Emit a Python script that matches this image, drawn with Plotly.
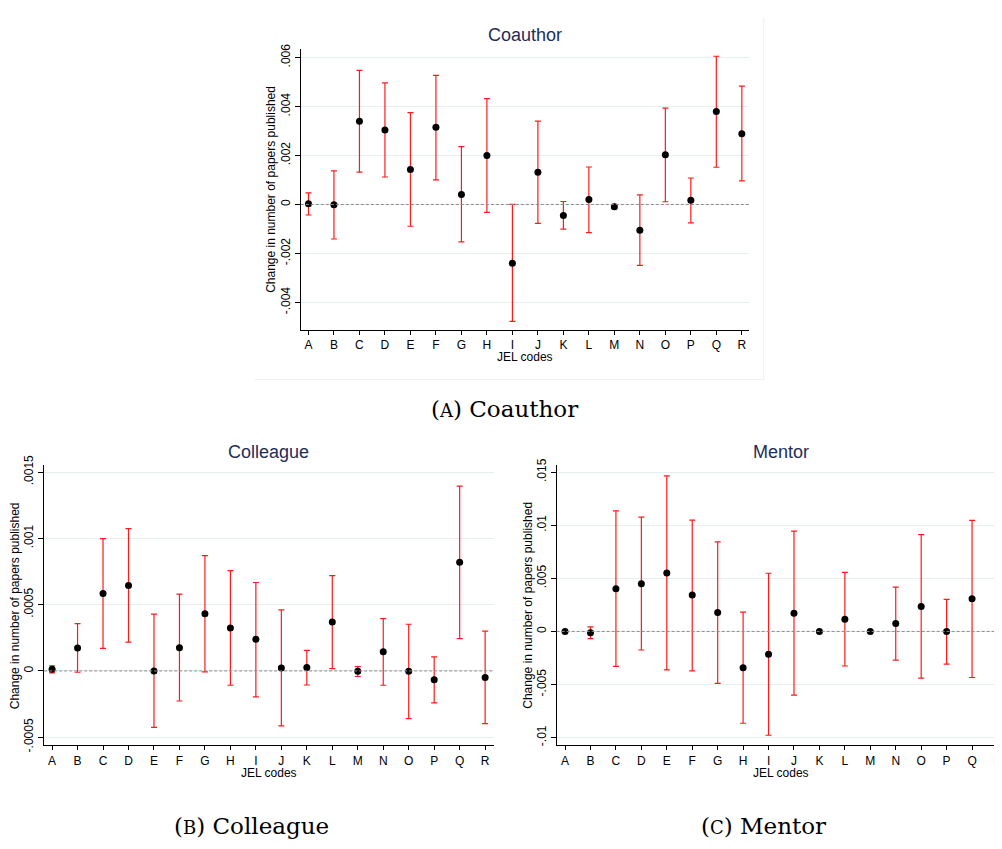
import plotly.graph_objects as go

W, H = 1002, 849
OX, OY = 8, 8  # page offset of the figure inside the browser

codes = list("ABCDEFGHIJKLMNOPQR")

# Coauthor
coauthor_est = [0.00003, -0.00001, 0.0034, 0.00304, 0.00143, 0.00315, 0.00041, 0.0020, -0.0024,
                0.00132, -0.00045, 0.0002, -0.00009, -0.00105, 0.00203, 0.00017, 0.00379, 0.00289]
coauthor_hi = [0.00047, 0.00137, 0.00547, 0.00496, 0.00375, 0.00527, 0.00236, 0.00432, 0.0,
               0.0034, 0.00012, 0.00153, 0.0, 0.00039, 0.00393, 0.00108, 0.00605, 0.00483]
coauthor_lo = [-0.00043, -0.00141, 0.00132, 0.00112, -0.00089, 0.0010, -0.00153, -0.00032, -0.00477,
               -0.00077, -0.00101, -0.00115, -0.00017, -0.00249, 0.00011, -0.00075, 0.00152, 0.00096]
coauthor_ticks = [-0.004, -0.002, 0, 0.002, 0.004, 0.006]
coauthor_ticktext = ["-.004", "-.002", "0", ".002", ".004", ".006"]

# Colleague
colleague_est = [0.000012, 0.000172, 0.000584, 0.000645, 0.0, 0.000175, 0.000431, 0.000323, 0.000239,
                 0.000022, 0.000025, 0.000369, -0.000002, 0.000145, -0.000002, -0.000067, 0.00082, -0.000049]
colleague_hi = [0.000039, 0.000357, 0.000998, 0.001074, 0.000429, 0.000579, 0.000869, 0.000756, 0.000667,
                0.000461, 0.000155, 0.000719, 0.000032, 0.000394, 0.000352, 0.000106, 0.001394, 0.0003]
colleague_lo = [-0.000015, -0.00001, 0.00017, 0.000217, -0.000426, -0.000227, -0.000007, -0.000108, -0.000195,
                -0.000414, -0.000106, 0.000017, -0.000042, -0.000108, -0.00036, -0.000241, 0.000244, -0.000397]
colleague_ticks = [-0.0005, 0, 0.0005, 0.001, 0.0015]
colleague_ticktext = ["-.0005", "0", ".0005", ".001", ".0015"]

# Mentor
mentor_est = [0.0, -0.00012, 0.00403, 0.00449, 0.00551, 0.00342, 0.00178, -0.00342, -0.00215,
              0.00172, 0.0, 0.00114, 0.0, 0.00074, 0.00234, 0.0, 0.00308, 0.00418]
mentor_hi = [0.0, 0.00043, 0.01135, 0.01077, 0.01465, 0.01049, 0.00843, 0.00182, 0.00548,
             0.00945, 0.0, 0.00557, 0.0, 0.00418, 0.00911, 0.00302, 0.01046, 0.01108]
mentor_lo = [0.0, -0.00068, -0.00329, -0.00175, -0.00363, -0.00372, -0.00489, -0.00865, -0.00978,
             -0.006, 0.0, -0.00326, 0.0, -0.00271, -0.0044, -0.00308, -0.00434, -0.00274]
mentor_ticks = [-0.01, -0.005, 0, 0.005, 0.01, 0.015]
mentor_ticktext = ["-.01", "-.005", "0", ".005", ".01", ".015"]

ytitle = "Change in number of papers published"
xtitle = "JEL codes"

FONT = "Liberation Sans, Arial, sans-serif"
SERIF = "DejaVu Serif, serif"
GRID = "#e6eef0"
TITLE_COLOR = "#1e2d5a"


def fx(px):
    return (px - OX) / W


def fy(py):
    return 1 - (py - OY) / H


# panel geometry in screen pixels: left, right, top, bottom
panels = [
    dict(name="Coauthor", est=coauthor_est, hi=coauthor_hi, lo=coauthor_lo,
         ticks=coauthor_ticks, ticktext=coauthor_ticktext,
         px=(301.7, 751.7, 39.3, 326.0), xr=[-0.3, 17.3], yr=[-0.00511, 0.00636],
         ytitle_x=271.5, xtitle_y=354, title_y=25.5, center=526.7),
    dict(name="Colleague", est=colleague_est, hi=colleague_hi, lo=colleague_lo,
         ticks=colleague_ticks, ticktext=colleague_ticktext,
         px=(44.3, 495.0, 464.3, 750.3), xr=[-0.31, 17.33], yr=[-0.000562, 0.001552],
         ytitle_x=15, xtitle_y=778.5, title_y=451, center=269.5),
    dict(name="Mentor", est=mentor_est, hi=mentor_hi, lo=mentor_lo,
         ticks=mentor_ticks, ticktext=mentor_ticktext,
         px=(558.3, 1002.0, 464.3, 750.3), xr=[-0.33, 17.06], yr=[-0.01074, 0.01566],
         ytitle_x=530, xtitle_y=778.5, title_y=451, center=783.3),
]

fig = go.Figure()
annotations = []
shapes = []

for i, p in enumerate(panels):
    sfx = "" if i == 0 else str(i + 1)
    xa, ya = "x" + sfx, "y" + sfx
    l, r, t, b = p["px"]
    plus = [h - e for h, e in zip(p["hi"], p["est"])]
    minus = [e - lo for e, lo in zip(p["est"], p["lo"])]
    fig.add_trace(go.Scatter(
        x=codes, y=p["est"], mode="markers", xaxis=xa, yaxis=ya,
        marker=dict(color="black", size=7),
        error_y=dict(type="data", symmetric=False, array=plus, arrayminus=minus,
                     color="#ff1a1a", thickness=1.2, width=3),
        showlegend=False,
    ))
    dom_x = [fx(l), min(fx(r), 1.0)]
    dom_y = [fy(b), fy(t)]
    fig.update_layout(**{
        "xaxis" + sfx: dict(domain=dom_x, anchor=ya, type="category", range=p["xr"],
                            showline=True, linecolor="black", linewidth=1,
                            ticks="outside", ticklen=4, tickcolor="black", tickwidth=1,
                            showgrid=False, zeroline=False,
                            tickfont=dict(family=FONT, size=12, color="black")),
        "yaxis" + sfx: dict(domain=dom_y, anchor=xa, range=p["yr"],
                            tickvals=p["ticks"], ticktext=p["ticktext"], tickangle=-90,
                            showline=True, linecolor="black", linewidth=1,
                            ticks="outside", ticklen=5, tickcolor="black", tickwidth=1,
                            showgrid=True, gridcolor=GRID, gridwidth=1, zeroline=False,
                            tickfont=dict(family=FONT, size=12, color="black")),
    })
    # dashed zero reference line
    shapes.append(dict(type="line", xref=xa + " domain", yref=ya, x0=0, x1=1, y0=0, y1=0,
                       line=dict(color="#8c8c8c", width=1, dash="3px,2px"), layer="above"))
    # panel title
    annotations.append(dict(text=p["name"], xref="paper", yref="paper",
                            x=fx(p["center"]), y=fy(p["title_y"]),
                            showarrow=False, xanchor="center", yanchor="middle",
                            font=dict(family=FONT, size=18, color=TITLE_COLOR)))
    # y title
    annotations.append(dict(text=ytitle, xref="paper", yref="paper",
                            x=fx(p["ytitle_x"]), y=fy((t + b) / 2), textangle=-90,
                            showarrow=False, xanchor="center", yanchor="middle",
                            font=dict(family=FONT, size=12, color="black")))
    # x title
    annotations.append(dict(text=xtitle, xref="paper", yref="paper",
                            x=fx(p["center"]), y=fy(p["xtitle_y"]),
                            showarrow=False, xanchor="center", yanchor="middle",
                            font=dict(family=FONT, size=12, color="black")))

# captions
captions = [("(<span style='font-size:18px'>A</span>) Coauthor", 506, 407),
            ("(<span style='font-size:18px'>B</span>) Colleague", 252, 832),
            ("(<span style='font-size:18px'>C</span>) Mentor", 766, 832)]
for txt, cx, cy in captions:
    annotations.append(dict(text=txt, xref="paper", yref="paper", x=fx(cx), y=fy(cy),
                            showarrow=False, xanchor="center", yanchor="middle",
                            font=dict(family=SERIF, size=23, color="black")))

# faint frame around top graph
shapes.append(dict(type="line", xref="paper", yref="paper", x0=fx(255), x1=fx(766),
                   y0=fy(377), y1=fy(377), line=dict(color="#efefef", width=1)))
shapes.append(dict(type="line", xref="paper", yref="paper", x0=fx(766), x1=fx(766),
                   y0=fy(377), y1=1, line=dict(color="#efefef", width=1)))

fig.update_layout(width=W, height=H, margin=dict(l=0, r=0, t=0, b=0),
                  paper_bgcolor="white", plot_bgcolor="white",
                  annotations=annotations, shapes=shapes,
                  font=dict(family=FONT, size=12, color="black"))

fig.write_html("out.html")
